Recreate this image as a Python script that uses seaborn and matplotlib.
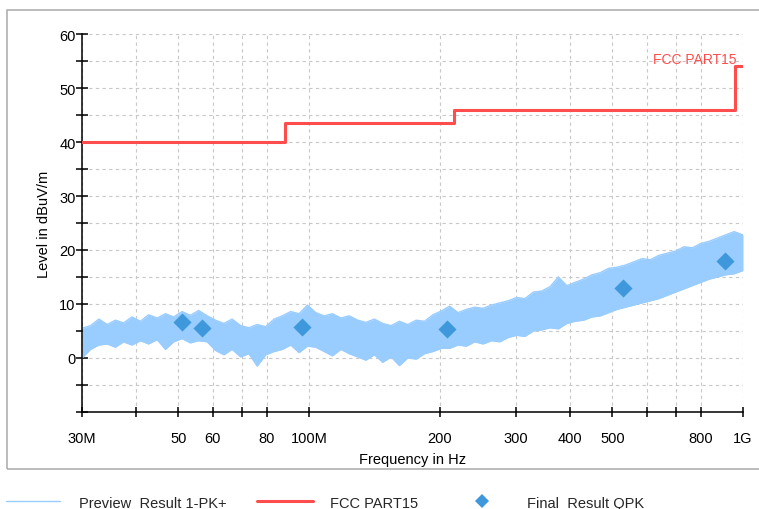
import matplotlib
matplotlib.use("Agg")
import matplotlib.pyplot as plt
from matplotlib.patches import Rectangle
from matplotlib.lines import Line2D
import pandas as pd
import seaborn as sns

# Preview PK+ sweep: sampled frequencies (MHz) with min/max level envelope (dBuV/m)
freq_mhz = [30, 31.4, 32.8, 34.3, 35.8, 37.4, 39.1, 40.9, 42.7, 44.7,
            46.7, 48.8, 51.0, 53.3, 55.7, 58.3, 60.9, 63.7, 66.5, 69.6,
            72.7, 76.0, 79.5, 83.1, 86.8, 90.8, 94.9, 99.2, 103.7, 108.4,
            113.3, 118.5, 123.8, 129.5, 135.3, 141.5, 147.9, 154.6, 161.6, 168.9,
            176.6, 184.6, 193.0, 201.8, 210.9, 220.5, 230.5, 240.9, 251.9, 263.3,
            275.3, 287.8, 300.8, 314.5, 328.8, 343.7, 359.3, 375.6, 392.6, 410.5,
            429.1, 448.6, 469.0, 490.2, 512.5, 535.8, 560.1, 585.5, 612.1, 639.9,
            668.9, 699.3, 731.0, 764.2, 798.9, 835.2, 873.1, 912.7, 954.1, 1000]
peak_upper = [5.5, 6.0, 7.2, 6.2, 7.0, 6.5, 7.6, 6.8, 8.0, 7.4,
              8.2, 7.6, 8.6, 7.9, 8.8, 7.8, 7.0, 6.4, 7.2, 6.0,
              5.6, 6.2, 5.8, 7.2, 7.8, 8.6, 8.2, 9.8, 8.4, 7.8,
              8.2, 7.4, 7.8, 7.0, 6.6, 7.2, 6.4, 6.0, 6.8, 6.2,
              7.0, 6.8, 8.0, 8.7, 9.6, 8.4, 9.0, 9.4, 9.2, 9.8,
              10.2, 10.6, 11.2, 11.0, 12.2, 12.4, 13.2, 15.0, 13.4, 14.0,
              14.6, 15.4, 15.8, 16.6, 16.8, 17.2, 17.8, 18.4, 18.2, 19.0,
              19.4, 19.8, 20.6, 20.4, 21.2, 21.6, 22.2, 22.8, 23.4, 22.8]
peak_lower = [0.0, 1.6, 2.4, 2.6, 2.0, 3.0, 2.4, 3.2, 2.6, 3.4,
              1.6, 3.0, 3.6, 2.8, 3.2, 3.0, 1.4, 0.6, 1.6, 0.2,
              0.8, -1.5, 0.6, 1.2, 1.6, 2.4, 1.0, 2.2, 2.0, 1.2,
              0.4, 1.6, 0.8, 0.2, -0.4, 0.6, -0.8, 0.2, -1.4, 0.0,
              -0.2, 0.8, 1.2, 1.8, 1.8, 2.4, 2.2, 3.0, 2.6, 3.2,
              3.0, 3.8, 4.2, 4.0, 5.0, 5.2, 5.6, 5.4, 6.4, 6.8,
              7.0, 7.6, 7.8, 8.4, 9.0, 9.4, 9.8, 10.2, 10.6, 11.0,
              11.6, 12.2, 12.8, 13.4, 14.0, 14.6, 15.0, 15.4, 15.6, 16.2]

# FCC Part 15 class B radiated limit (step edges)
limit_freq = [30, 88, 216, 960, 1000]
limit_level = [40, 43.5, 46, 54, 54]

# Final quasi-peak measurements
qpk_freq = [51.1, 56.6, 96.6, 207.6, 529, 908]
qpk_level = [6.6, 5.6, 5.8, 5.4, 12.9, 18.0]

x_ticks = [30, 40, 50, 60, 70, 80, 100, 200, 300, 400, 500, 600, 700, 800, 1000]
x_tick_labels = ["30M", "", "50", "60", "", "80", "100M", "200", "300", "400",
                 "500", "", "", "800", "1G"]
y_ticks = list(range(-10, 61, 5))
y_tick_labels = [str(v) if (v >= 0 and v % 10 == 0) else "" for v in y_ticks]

TRACE = "#99CCFF"
LIMIT = "#FF4D4D"
QPK = "#4098DC"

sns.set_theme(style="white")
plt.rcParams["font.family"] = ["Liberation Sans", "DejaVu Sans"]

W, H = 759, 510
fig = plt.figure(figsize=(W / 100, H / 100), dpi=100)
ax = fig.add_axes([82 / W, 1 - 413 / H, (743 - 82) / W, (413 - 35) / H])

# outer panel border
fig.add_artist(Rectangle((7 / W, 1 - 469.5 / H), 1.2, (469.5 - 10.5) / H,
                         transform=fig.transFigure, fill=False,
                         edgecolor="#AAAAAA", linewidth=1.1, zorder=0))

sweep = pd.DataFrame({"freq": freq_mhz, "upper": peak_upper, "lower": peak_lower})
limit = pd.DataFrame({"freq": limit_freq, "level": limit_level})
qpk = pd.DataFrame({"freq": qpk_freq, "level": qpk_level})

# peak-hold band of the preview sweep
ax.fill_between(sweep["freq"], sweep["lower"], sweep["upper"],
                color=TRACE, linewidth=0, zorder=2)
sns.lineplot(data=sweep, x="freq", y="upper", ax=ax, color=TRACE,
             linewidth=1.0, estimator=None, sort=False, zorder=2)
sns.lineplot(data=sweep, x="freq", y="lower", ax=ax, color=TRACE,
             linewidth=1.0, estimator=None, sort=False, zorder=2)

sns.lineplot(data=limit, x="freq", y="level", ax=ax, color=LIMIT,
             linewidth=2.2, drawstyle="steps-post", estimator=None,
             sort=False, zorder=3)

sns.scatterplot(data=qpk, x="freq", y="level", ax=ax, color=QPK,
                marker="D", s=85, linewidth=0, zorder=4)

ax.text(968, 55.3, "FCC PART15", color=LIMIT, fontsize=10,
        ha="right", va="center", zorder=5)

ax.set_xscale("log")
ax.set_xlim(30, 1000)
ax.set_ylim(-10, 60)
ax.set_xticks(x_ticks)
ax.set_xticklabels(x_tick_labels)
ax.xaxis.set_minor_locator(matplotlib.ticker.NullLocator())
ax.set_yticks(y_ticks)
ax.set_yticklabels(y_tick_labels)

ax.grid(True, which="major", color="#C8C8C8", linestyle=(0, (3, 3)),
        linewidth=0.8)
ax.set_axisbelow(True)

for side in ["top", "right"]:
    ax.spines[side].set_visible(False)
for side in ["left", "bottom"]:
    ax.spines[side].set_color("black")
    ax.spines[side].set_linewidth(1.1)

ax.tick_params(axis="y", direction="inout", length=8, width=1.1,
               colors="black", labelsize=10.5, pad=0.5, left=True)
ax.tick_params(axis="x", direction="inout", length=7, width=1.1,
               colors="black", labelsize=10.5, pad=10, bottom=True)

ax.set_xlabel("Frequency in Hz", fontsize=10.5, color="black")
ax.set_ylabel("Level in dBuV/m", fontsize=10.5, color="black")
ax.xaxis.set_label_coords(0.5, -(453 - 413) / 378)
ax.yaxis.set_label_coords(-(82 - 51) / 661, 0.5)

# legend row along the bottom edge
ly = 1 - 502 / H
ty = 1 - 504 / H
fig.add_artist(Line2D([6 / W, 60 / W], [ly, ly], color=TRACE, linewidth=1.0,
                      transform=fig.transFigure))
fig.text(79 / W, ty, "Preview  Result 1-PK+", fontsize=10.5, va="center")
fig.add_artist(Line2D([257 / W, 313 / W], [ly, ly], color=LIMIT, linewidth=2.2,
                      transform=fig.transFigure))
fig.text(330 / W, ty, "FCC PART15", fontsize=10.5, va="center")
fig.add_artist(Line2D([482 / W], [ly], color=QPK, marker="D", markersize=7.5,
                      linestyle="none", markeredgewidth=0,
                      transform=fig.transFigure))
fig.text(527 / W, ty, "Final  Result QPK", fontsize=10.5, va="center")

fig.savefig("out.png", dpi=100)
